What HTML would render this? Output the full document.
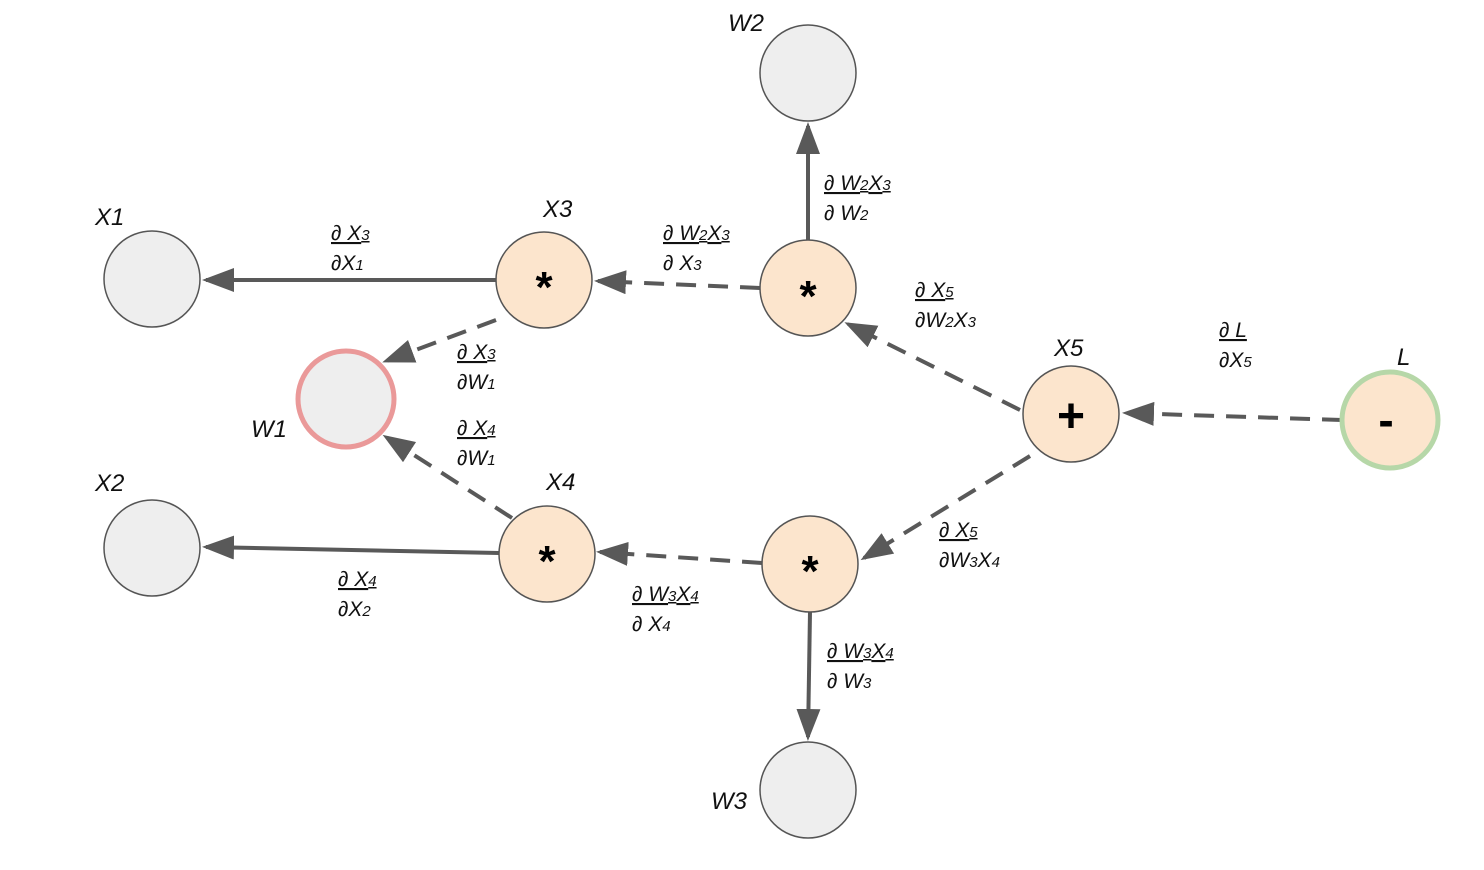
<!DOCTYPE html>
<html><head><meta charset="utf-8"><style>
html,body{margin:0;padding:0;background:#fff;}
svg{display:block;}
text{font-family:"Liberation Sans",sans-serif;font-style:italic;fill:#111;}
.f{font-size:21px;}
.s{font-size:15px;}
.n{font-size:24px;}
.op{font-style:normal;font-weight:bold;fill:#000;}
</style></head><body>
<svg width="1484" height="870" viewBox="0 0 1484 870">
<defs>
<marker id="ah" markerWidth="8" markerHeight="6" refX="7" refY="3" orient="auto" markerUnits="strokeWidth">
<path d="M0,0 L8,3 L0,6 z" fill="#595959"/>
</marker>
</defs>
<g stroke="#595959" stroke-width="4" fill="none" marker-end="url(#ah)">
<line x1="496" y1="280" x2="206" y2="280"/>
<line x1="808" y1="240" x2="808" y2="126"/>
<line x1="760" y1="288" x2="598" y2="281" stroke-dasharray="20,12"/>
<line x1="496" y1="320" x2="386" y2="361" stroke-dasharray="20,12"/>
<line x1="1020" y1="410" x2="848" y2="324" stroke-dasharray="20,12"/>
<line x1="1342" y1="420" x2="1126" y2="413" stroke-dasharray="20,12"/>
<line x1="1030" y1="456" x2="864" y2="558" stroke-dasharray="20,12"/>
<line x1="762" y1="563" x2="600" y2="552" stroke-dasharray="20,12"/>
<line x1="499" y1="553" x2="206" y2="547"/>
<line x1="512" y1="518" x2="386" y2="437" stroke-dasharray="20,12"/>
<line x1="810" y1="612" x2="808" y2="737"/>
</g>
<g stroke="#555" stroke-width="1.5">
<circle cx="808" cy="73" r="48" fill="#eeeeee"/>
<circle cx="152" cy="279" r="48" fill="#eeeeee"/>
<circle cx="544" cy="280" r="48" fill="#fce5cd"/>
<circle cx="808" cy="288" r="48" fill="#fce5cd"/>
<circle cx="346" cy="399" r="48" fill="#eeeeee" stroke="#ea9999" stroke-width="5"/>
<circle cx="1071" cy="414" r="48" fill="#fce5cd"/>
<circle cx="1390" cy="420" r="48" fill="#fce5cd" stroke="#b6d7a8" stroke-width="5"/>
<circle cx="152" cy="548" r="48" fill="#eeeeee"/>
<circle cx="547" cy="554" r="48" fill="#fce5cd"/>
<circle cx="810" cy="564" r="48" fill="#fce5cd"/>
<circle cx="808" cy="790" r="48" fill="#eeeeee"/>
</g>
<g class="op" text-anchor="middle">
<text x="544" y="302" font-size="44" class="op">*</text>
<text x="808" y="311" font-size="44" class="op">*</text>
<text x="1071" y="432" font-size="48" class="op">+</text>
<text x="1386" y="436" font-size="46" class="op">-</text>
<text x="547" y="576" font-size="44" class="op">*</text>
<text x="810" y="586" font-size="44" class="op">*</text>
</g>
<g class="n">
<text x="728" y="31" class="n">W2</text>
<text x="95" y="225" class="n">X1</text>
<text x="543" y="217" class="n">X3</text>
<text x="1054" y="356" class="n">X5</text>
<text x="1397" y="365" class="n">L</text>
<text x="251" y="437" class="n">W1</text>
<text x="95" y="491" class="n">X2</text>
<text x="546" y="490" class="n">X4</text>
<text x="711" y="809" class="n">W3</text>
</g>
<g>
<text x="824" y="190" class="f" text-decoration="underline">∂ W<tspan class="s">2</tspan>X<tspan class="s">3</tspan></text>
<text x="824" y="220" class="f">∂ W<tspan class="s">2</tspan></text>
<text x="331" y="240" class="f" text-decoration="underline">∂ X<tspan class="s">3</tspan></text>
<text x="331" y="270" class="f">∂X<tspan class="s">1</tspan></text>
<text x="663" y="240" class="f" text-decoration="underline">∂ W<tspan class="s">2</tspan>X<tspan class="s">3</tspan></text>
<text x="663" y="270" class="f">∂ X<tspan class="s">3</tspan></text>
<text x="915" y="297" class="f" text-decoration="underline">∂ X<tspan class="s">5</tspan></text>
<text x="915" y="327" class="f">∂W<tspan class="s">2</tspan>X<tspan class="s">3</tspan></text>
<text x="1219" y="337" class="f" text-decoration="underline">∂ L</text>
<text x="1219" y="367" class="f">∂X<tspan class="s">5</tspan></text>
<text x="457" y="359" class="f" text-decoration="underline">∂ X<tspan class="s">3</tspan></text>
<text x="457" y="389" class="f">∂W<tspan class="s">1</tspan></text>
<text x="457" y="435" class="f" text-decoration="underline">∂ X<tspan class="s">4</tspan></text>
<text x="457" y="465" class="f">∂W<tspan class="s">1</tspan></text>
<text x="939" y="537" class="f" text-decoration="underline">∂ X<tspan class="s">5</tspan></text>
<text x="939" y="567" class="f">∂W<tspan class="s">3</tspan>X<tspan class="s">4</tspan></text>
<text x="338" y="586" class="f" text-decoration="underline">∂ X<tspan class="s">4</tspan></text>
<text x="338" y="616" class="f">∂X<tspan class="s">2</tspan></text>
<text x="632" y="601" class="f" text-decoration="underline">∂ W<tspan class="s">3</tspan>X<tspan class="s">4</tspan></text>
<text x="632" y="631" class="f">∂ X<tspan class="s">4</tspan></text>
<text x="827" y="658" class="f" text-decoration="underline">∂ W<tspan class="s">3</tspan>X<tspan class="s">4</tspan></text>
<text x="827" y="688" class="f">∂ W<tspan class="s">3</tspan></text>
</g>
</svg>
</body></html>
